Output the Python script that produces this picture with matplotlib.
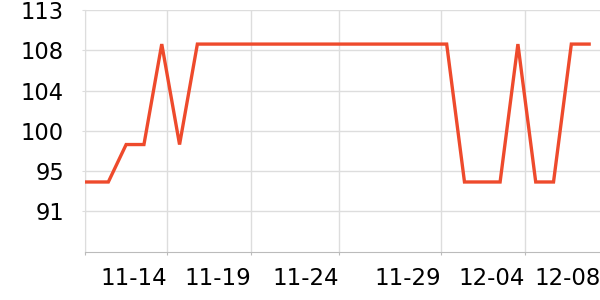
import matplotlib
matplotlib.use("Agg")
import matplotlib.pyplot as plt
import numpy as np

# data (index 0 = first fully visible day; earlier points clipped at axis edge)
values = [94.0, 94.0, 94.0, 98.1, 98.1, 109.1, 98.1,
          109.1, 109.1, 109.1, 109.1, 109.1, 109.1, 109.1, 109.1,
          109.1, 109.1, 109.1, 109.1, 109.1, 109.1, 109.1,
          94.0, 94.0, 94.0, 109.1, 94.0, 94.0, 109.1, 109.1]
x_index = np.arange(len(values)) - 2

xtick_pos = [-1.31, 3.30, 8.03, 12.97, 18.70, 23.41, 27.68]
xtick_labels = ["", "11-14", "11-19", "11-24", "11-29", "12-04", "12-08"]
ytick_pos = [90.8, 95.2, 99.6, 104.0, 108.4, 112.8]
ytick_labels = ["91", "95", "100", "104", "108", "113"]

fig = plt.figure(figsize=(6, 3), dpi=100)
ax = fig.add_axes([85 / 600, 1 - 252.3 / 300, 1 - 85 / 600 + 0.02, (252.3 - 10.3) / 300])

ax.plot(x_index, values, color="#ee4a2c", linewidth=2.4, solid_joinstyle="miter", zorder=3)

ax.set_xlim(-1.31, 27.61 + 0.02 * 600 / 17.81)
ax.set_ylim(86.3, 112.8)

ax.set_xticks(xtick_pos)
ax.set_xticklabels(xtick_labels, ha="right", fontsize=16.5)
ax.set_yticks(ytick_pos)
ax.set_yticklabels(ytick_labels, fontsize=16.3)

ax.grid(True, color="#dddddd", linewidth=1.0)
ax.set_axisbelow(True)
for s in ["top", "right"]:
    ax.spines[s].set_visible(False)
ax.spines["left"].set_color("#dddddd")
ax.spines["bottom"].set_color("#bbbbbb")
ax.tick_params(axis="x", length=2.5, color="#bbbbbb", pad=8)
ax.tick_params(axis="y", length=2, color="#dddddd", pad=13)

fig.savefig("out.png", dpi=100)
